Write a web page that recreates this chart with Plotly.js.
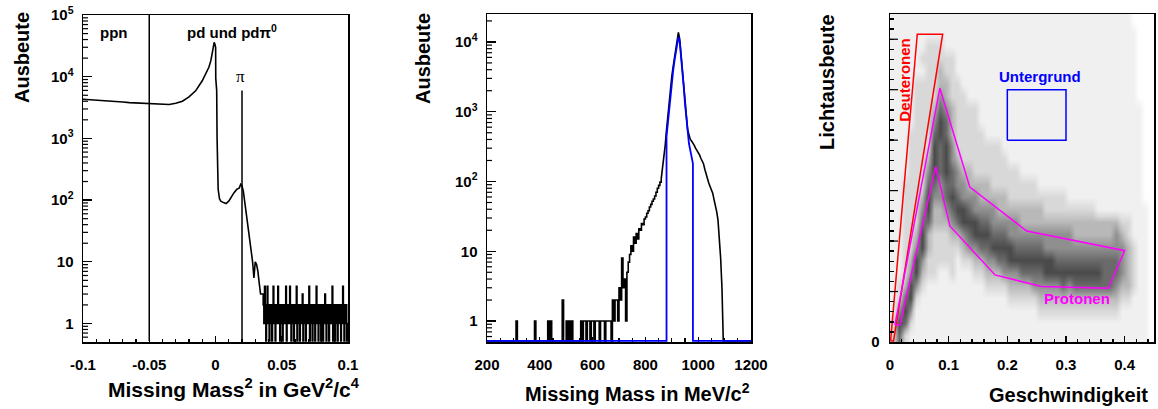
<!DOCTYPE html>
<html><head><meta charset="utf-8">
<script src="https://cdn.plot.ly/plotly-3.0.1.min.js"></script>
<style>html,body{margin:0;padding:0;background:#fff}#chart{width:1158px;height:409px}</style>
</head><body><div id="chart"></div>
<script>
// ---------- Panel 1: Missing Mass^2 ----------
const mm2X = [-0.1,-0.095,-0.09,-0.085,-0.08,-0.075,-0.07,-0.065,-0.06,-0.055,-0.05,-0.045,-0.04,-0.035,-0.03,-0.025,-0.02,-0.015,-0.01,-0.0075,-0.005,-0.0035,-0.0025,-0.0015,-0.001,-0.0005,0.0001,0.0002,0.0009,0.0012,0.0016,0.002,0.003,0.004,0.006,0.008,0.010,0.012,0.014,0.016,0.018,0.019,0.020,0.021,0.022,0.023,0.024,0.025,0.026,0.027,0.028,0.029,0.030,0.031,0.032,0.033,0.034,0.035,0.036];
const mm2Y = [4300,4250,4200,4100,4050,4000,3900,3800,3750,3700,3650,3600,3550,3550,3700,4000,4700,5900,8600,10800,14200,18200,23300,31000,36000,34000,30000,9400,6000,1000,330,150,105,96,91,88,96,116,132,149,158,180,170,140,96,66,46,29,18,15,10,5.5,10,9,7,4.5,3,3,3];
const mm2NoiseStart = 0.036;
const mm2NoiseBin = 0.0005;
const mm2Noise = [2,1,4,2,0,2,4,1, 2,0,1,2,1,0,2,4, 1,2,0,1,2,1,4,2, 1,0,2,1,2,0,1,2,
                  1,2,4,0,2,1,2,1, 4,1,0,2,1,2,0,1, 2,1,4,0,2,1,2,0, 1,2,1,3,0,2,1,2,
                  0,1,2,1,2,4,0,2, 1,2,0,1,2,1,0,2, 4,1,2,0,1,2,1,0, 2,1,0,2,1,3,1,0,
                  2,1,2,0,1,2,1,2, 4,0,1,2,0,1,2,1, 0,2,1,2,1,0,2,1, 4,1,0,2,1,2,0,1];
const mm2CutX = [-0.05, 0.02];
const mm2CutTop = [100000, 6000];
const mm2TickVals = [-0.1,-0.05,0,0.05,0.1];
const mm2TickText = ["-0.1","-0.05","0","0.05","0.1"];

// ---------- Panel 2: Missing Mass ----------
const pmBinStart = 300;
const pmBinWidth = 5;
const pmCounts = [0,0,1,0,0,0,0,0,0,0, 0,0,0,0,0,0,1,0,0,0, 0,0,0,0,0,0,1,0,1,0,
                  0,0,0,0,0,0,0,2,0,0, 1,0,1,0,1,0,0,0,0,0, 0,1,0,1,1,0,1,1,0,1,
                  1,0,1,1,1,0,1,1,1,0, 1,1,1,1,0,2,1,2,2,1, 3,2,8,3,4,1,5,7,9,12,
                  10,16,13,18,15,21,20,25,24,29, 31,35,38,43,47,52,56,62,70,80, 88,98];
const pmX = [860,865,870,875,880,885,890,895,900,905,910,915,920,925,930,935,940,945,950,955,960,965,970,975,980,985,990,995,1000,1005,1010,1015,1020,1025,1030,1035,1040,1045,1050,1055,1060,1065,1070,1075,1080,1085,1090,1092,1095];
const pmY = [110,150,230,330,550,900,1500,2200,3200,4400,5800,7700,10500,13700,11000,7000,4200,2600,1600,900,550,450,400,380,360,330,300,280,260,240,215,195,180,150,125,110,95,85,75,68,55,46,37,28,16,8,3,1,0];
const fitX = [880,885,890,895,900,905,910,915,920,925,930,935,940,945,950,955,960,965,970,975,980];
const fitY = [440,700,1150,1800,2700,3800,5300,7300,9800,11800,10000,6500,3900,2300,1300,800,470,350,280,220,180];
const pmTickVals = [200,400,600,800,1000,1200];

// ---------- Panel 3: Lichtausbeute vs Geschwindigkeit ----------
const heatX0 = 0.005, heatDX = 0.01, heatY0 = 0.125, heatDY = 0.25;
const heatRows = [
"25211 11111 11111 11111 11111 11111 11111 11111 11110",
"26521 11111 11111 11111 11111 11111 11111 11111 11110",
"14641 11111 11111 11111 11111 22222 22222 22221 11110",
"12562 11111 11111 11111 22222 33333 33333 33332 21110",
"12364 21111 11111 12222 33334 44445 45555 55543 32110",
"11246 32211 21112 23334 44555 56666 66666 65554 32110",
"11236 42222 21223 34455 66666 66655 55555 55554 32110",
"11224 63222 22344 55666 65555 54444 44444 44444 32110",
"11223 63222 33456 66555 44444 44444 43333 33343 21110",
"11222 55333 45666 55444 44333 33333 33333 33332 21110",
"11222 46334 56654 44433 33333 32222 22222 11111 11110",
"11222 36445 65444 33333 22222 22222 11111 11111 11100",
"11222 25545 54433 33222 22222 11111 11111 11111 11100",
"11122 24656 54332 22222 22111 11111 11111 11111 11100",
"11122 23656 43222 22222 11111 11111 11111 11111 11100",
"11122 22656 42222 22221 11111 11111 11111 11111 11100",
"11122 22565 32222 21111 11111 11111 11111 11111 11100",
"11112 22465 32222 11111 11111 11111 11111 11111 11100",
"11112 22354 32222 11111 11111 11111 11111 11111 11100",
"11112 22243 22211 11111 11111 11111 11111 11111 11000",
"11112 22233 22111 11111 11111 11111 11111 11111 11000",
"11111 12232 21111 11111 11111 11111 11111 11111 11000",
"11111 22222 21111 11111 11111 11111 11111 11111 11000",
"11111 12221 11111 11111 11111 11111 11111 11111 11000",
"11111 11111 11111 11111 11111 11111 11111 11111 11000",
"11111 11111 11111 11111 11111 11111 11111 11111 10000"
];
const grayLevels = ["#ffffff","#f0f0f0","#d8d8d8","#b8b8b8","#8f8f8f","#6a6a6a","#4a4a4a"];
const deutX = [0.001,0.0465,0.0898,0.006,0.001];
const deutY = [0.02,6.1,6.1,0.02,0.02];
const protX = [0.0085,0.085,0.136,0.233,0.4,0.372,0.258,0.179,0.102,0.078,0.017,0.0085];
const protY = [0.337,5.03,3.07,2.2,1.81,1.065,1.1,1.33,2.30,3.48,0.337,0.337];
const untX = [0.2,0.3,0.3,0.2,0.2];
const untY = [4,4,5,5,4];
const geTickVals = [0,0.1,0.2,0.3,0.4];
const lichtLabelVals = [0];
const lichtMajorVals = [1,2,3,4,5,6];

// ---------- build ----------
const W = 1158, H = 409;
const FLOOR = 0.52; // zero counts on log axes drawn at the bottom edge
const fl = v => (v > 0 ? v : FLOOR);
const FONT = "Liberation Sans, Arial, Helvetica, sans-serif";
const D1 = [83 / W, 348 / W], D2 = [487 / W, 751 / W], D3 = [890 / W, 1154 / W];
const YD1 = [1 - 342 / H, 1 - 15 / H], YD = [1 - 342 / H, 1 - 14 / H];
const R1 = [-0.1, 0.1], R2 = [200, 1200], R3 = [0, 0.45];
const LR1 = [-0.3, 5], LR2 = [-0.3, 4.4], LR3 = [0, 6.5];

const p1x = [], p1y = [];
mm2X.forEach((x, i) => { p1x.push(x); p1y.push(fl(mm2Y[i])); });
mm2Noise.forEach((v, i) => {
  const e = mm2NoiseStart + i * mm2NoiseBin;
  p1x.push(e, e + mm2NoiseBin); p1y.push(fl(v), fl(v));
});
const p2x = [R2[0], pmBinStart], p2y = [FLOOR, FLOOR];
pmCounts.forEach((v, i) => {
  const e = pmBinStart + i * pmBinWidth;
  p2x.push(e, e + pmBinWidth); p2y.push(fl(v), fl(v));
});
pmX.forEach((x, i) => { p2x.push(x); p2y.push(fl(pmY[i])); });
p2x.push(R2[1]); p2y.push(FLOOR);
const bx = [R2[0], fitX[0]].concat(fitX, [fitX[fitX.length-1], R2[1]]);
const by = [FLOOR, FLOOR].concat(fitY, [FLOOR, FLOOR]);

const z = heatRows.map(r => r.replace(/ /g, "").split("").map(Number));
const nL = grayLevels.length;
const cs = grayLevels.map((c, k) => [k / (nL - 1), c]);

function decadeTicks(n) {
  const v = [], t = [];
  for (let d = 0; d <= n; d++) {
    v.push(Math.pow(10, d));
    t.push(d === 0 ? "1" : d === 1 ? "10" : "10<sup>" + d + "</sup>");
  }
  return {v, t};
}
const dec1 = decadeTicks(5), dec2 = decadeTicks(4);
// minor tick positions of a log axis, as log10 exponents
function logMinorExp(lo, hi) {
  const out = [];
  for (let d = Math.floor(lo); d < Math.ceil(hi); d++)
    for (let m = 2; m <= 9; m++) { const e = d + Math.log10(m); if (e > lo && e < hi) out.push(e); }
  return out;
}

const line = (x, y, xa, ya, color, w) => ({type: "scatter", mode: "lines", x, y, xaxis: xa, yaxis: ya,
  line: {color, width: w}, hoverinfo: "skip"});

const traces = [
  {type: "heatmap", z, x0: heatX0, dx: heatDX, y0: heatY0, dy: heatDY, xaxis: "x3", yaxis: "y3",
   colorscale: cs, zmin: 0, zmax: nL - 1, showscale: false, hoverinfo: "skip", zsmooth: "best"},
  line(p1x, p1y, "x", "y", "#000", 1.6),
  ...mm2CutX.map((x, i) => line([x, x], [FLOOR, mm2CutTop[i]], "x", "y", "#000", 1.5)),
  line(p2x, p2y, "x2", "y2", "#000", 1.6),
  line(bx, by, "x2", "y2", "#0000ff", 1.8),
  line(deutX, deutY, "x3", "y3", "#ff0000", 1.5),
  line(protX, protY, "x3", "y3", "#ff00ff", 1.5),
  line(untX, untY, "x3", "y3", "#0000ff", 1.5)
];

// extra left-frame tick marks (axis decoration), placed in paper coordinates
const shapes = [];
function frameTicks(xdom, ydom, lin, linRange, lenPx) {
  const dx = lenPx / W;
  lin.forEach(u => {
    const yp = ydom[0] + (u - linRange[0]) / (linRange[1] - linRange[0]) * (ydom[1] - ydom[0]);
    shapes.push({type: "line", xref: "paper", yref: "paper", x0: xdom[0], x1: xdom[0] + dx, y0: yp, y1: yp,
      line: {color: "#000", width: 1.2}, layer: "above"});
  });
}
frameTicks(D1, YD1, logMinorExp(LR1[0], LR1[1]), LR1, 5);
frameTicks(D2, YD, logMinorExp(LR2[0], LR2[1]), LR2, 5);
frameTicks(D3, YD, lichtMajorVals, LR3, 8);

const tickFont = {family: FONT, size: 15, color: "#000", weight: 700};
const common = {ticks: "inside", tickcolor: "#000", tickwidth: 1.4, showline: true, linecolor: "#000",
  linewidth: 1.5, mirror: true, showgrid: false, zeroline: false, tickfont: tickFont, fixedrange: true};

const layout = {
  width: W, height: H, margin: {l: 0, r: 0, t: 0, b: 0}, showlegend: false,
  paper_bgcolor: "#fff", plot_bgcolor: "rgba(0,0,0,0)", hovermode: false, shapes,
  xaxis: Object.assign({}, common, {domain: D1, range: R1, anchor: "y",
    tickmode: "array", tickvals: mm2TickVals, ticktext: mm2TickText, ticklen: 6, ticklabelstandoff: 8,
    minor: {tickmode: "linear", tick0: 0, dtick: 0.01, ticks: "inside", ticklen: 3, tickcolor: "#000", showgrid: false}}),
  yaxis: Object.assign({}, common, {domain: YD1, type: "log", range: LR1, anchor: "x",
    tickmode: "array", tickvals: dec1.v, ticktext: dec1.t, ticklen: 9, ticklabelstandoff: 5}),
  xaxis2: Object.assign({}, common, {domain: D2, range: R2, anchor: "y2",
    tickmode: "array", tickvals: pmTickVals, ticklen: 5, ticklabelstandoff: 8, layer: "below traces",
    minor: {tickmode: "linear", tick0: 0, dtick: 50, ticks: "inside", ticklen: 4, tickcolor: "#000", showgrid: false}}),
  yaxis2: Object.assign({}, common, {domain: YD, type: "log", range: LR2, anchor: "x2",
    tickmode: "array", tickvals: dec2.v, ticktext: dec2.t, ticklen: 9, ticklabelstandoff: 5}),
  xaxis3: Object.assign({}, common, {domain: D3, range: R3, anchor: "y3",
    tickmode: "array", tickvals: geTickVals, ticktext: geTickVals.map(String), ticklen: 6, ticklabelstandoff: 8,
    minor: {tickmode: "linear", tick0: 0, dtick: 0.02, ticks: "inside", ticklen: 3, tickcolor: "#000", showgrid: false}}),
  yaxis3: Object.assign({}, common, {domain: YD, range: LR3, anchor: "x3",
    tickmode: "array", tickvals: lichtLabelVals, ticktext: lichtLabelVals.map(String), ticklen: 8, ticklabelstandoff: 6,
    minor: {tickmode: "linear", tick0: 0, dtick: 0.2, ticks: "inside", ticklen: 4, tickcolor: "#000", showgrid: false}}),
  annotations: []
};

const titleFont = {family: FONT, size: 20, color: "#000", weight: 700};
const lblFont = (c) => ({family: FONT, size: 15, color: c, weight: 700});
const paper = (text, px, py, opts) => Object.assign({text, x: px / W, y: 1 - py / H, xref: "paper", yref: "paper",
  showarrow: false, font: titleFont, xanchor: "center", yanchor: "middle"}, opts || {});
layout.annotations.push(
  paper("Ausbeute", 22, 58, {textangle: -90}),
  paper("Missing Mass<sup>2</sup> in GeV<sup>2</sup>/c<sup>4</sup>", 362, 388, {xanchor: "right", font: Object.assign({}, titleFont, {size: 21})}),
  paper("Ausbeute", 423, 59, {textangle: -90}),
  paper("Missing Mass in MeV/c<sup>2</sup>", 752, 392, {xanchor: "right"}),
  paper("Lichtausbeute", 827, 82, {textangle: -90}),
  paper("Geschwindigkeit", 1150, 395, {xanchor: "right"}),
  {text: "ppn", x: -0.0766, y: 4.715, xref: "x", yref: "y", showarrow: false, font: lblFont("#000")},
  {text: "pd und pdπ<sup>0</sup>", x: 0.0122, y: 4.74, xref: "x", yref: "y", showarrow: false, font: lblFont("#000")},
  {text: "π", x: 0.0192, y: 4.0, xref: "x", yref: "y", showarrow: false,
   font: {family: "Liberation Serif, Times New Roman, serif", size: 17, color: "#000"}},
  {text: "Deuteronen", x: 0.0256, y: 5.18, xref: "x3", yref: "y3", showarrow: false, textangle: -90, font: lblFont("#ff0000")},
  {text: "Untergrund", x: 0.256, y: 5.26, xref: "x3", yref: "y3", showarrow: false, font: lblFont("#0000ff")},
  {text: "Protonen", x: 0.318, y: 0.853, xref: "x3", yref: "y3", showarrow: false, font: lblFont("#ff00ff")}
);

Plotly.newPlot("chart", traces, layout, {staticPlot: true, displayModeBar: false});
</script>
</body></html>
